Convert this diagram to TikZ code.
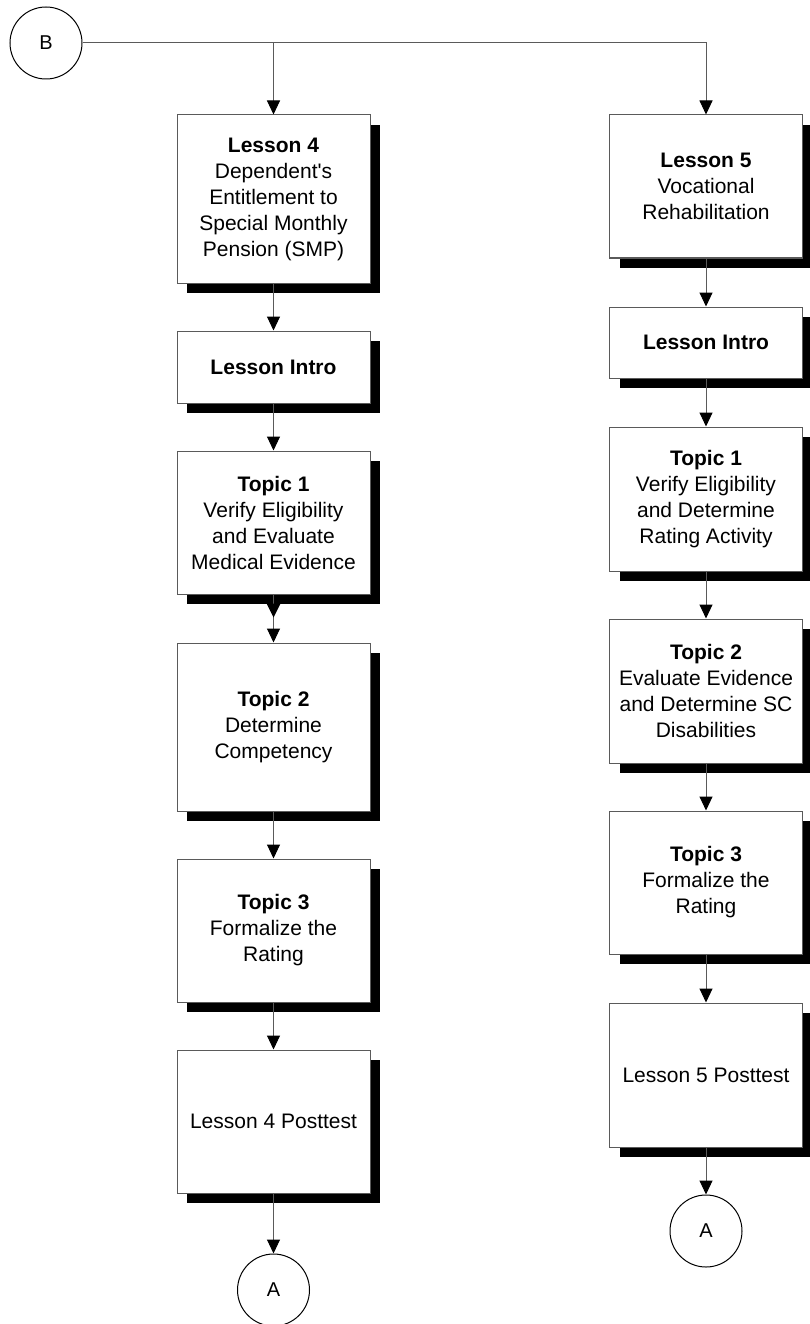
\documentclass[tikz,border=0pt]{standalone}
\usepackage{fontspec}
\setmainfont{Liberation Sans}
\usetikzlibrary{arrows.meta,shadows}
\definecolor{linecol}{RGB}{90,90,90}
\begin{document}
\begin{tikzpicture}[x=1pt,y=-1pt,
  stepbox/.style={draw=linecol,line width=1pt,fill=white,inner sep=0pt,
    minimum width=193pt,align=center,font=\fontsize{21}{26}\selectfont,
    drop shadow={shadow xshift=10pt,shadow yshift=-10pt,fill=black,opacity=1}},
  conn/.style={draw=black,line width=1pt,fill=white,circle,minimum size=72pt,inner sep=0pt,
    font=\fontsize{20}{24}\selectfont},
  arr/.style={draw=linecol,line width=1pt,-{Triangle[length=14pt,width=13pt,color=black]}}]
\useasboundingbox (0,0) rectangle (809,1324);
% left column
\node[stepbox,minimum height=168pt] (L4) at (273.5,199) {\textbf{Lesson 4}\\Dependent\textquotesingle s\\Entitlement to\\Special Monthly\\Pension (SMP)};
\node[stepbox,minimum height=72pt] (Li) at (273.5,367) {\textbf{Lesson Intro}};
\node[stepbox,minimum height=143pt] (LT1) at (273.5,522.5) {\textbf{Topic 1}\\Verify Eligibility\\and Evaluate\\Medical Evidence};
\node[stepbox,minimum height=168pt] (LT2) at (273.5,727) {\textbf{Topic 2}\\Determine\\Competency};
\node[stepbox,minimum height=143pt] (LT3) at (273.5,930.5) {\textbf{Topic 3}\\Formalize the\\Rating};
\node[stepbox,minimum height=143pt] (LP) at (273.5,1121.5) {Lesson 4 Posttest};
\node[conn] (LA) at (273.5,1290) {A};
% right column
\node[stepbox,minimum height=143pt] (R5) at (706,186.5) {\textbf{Lesson 5}\\Vocational\\Rehabilitation};
\node[stepbox,minimum height=71pt] (Ri) at (706,342.5) {\textbf{Lesson Intro}};
\node[stepbox,minimum height=144pt] (RT1) at (706,499) {\textbf{Topic 1}\\Verify Eligibility\\and Determine\\Rating Activity};
\node[stepbox,minimum height=144pt] (RT2) at (706,691) {\textbf{Topic 2}\\Evaluate Evidence\\and Determine SC\\Disabilities};
\node[stepbox,minimum height=143pt] (RT3) at (706,882.5) {\textbf{Topic 3}\\Formalize the\\Rating};
\node[stepbox,minimum height=144pt] (RP) at (706,1075) {Lesson 5 Posttest};
\node[conn] (RA) at (706,1231) {A};
% start connector
\node[conn] (B) at (46,43) {B};
\coordinate (bj) at (L4.north |- B.east);
\draw[arr] (B.east) -- (B.east -| R5.north) -- (R5.north);
\draw[arr] (bj) -- (L4.north);
% left arrows
\draw[arr] (L4.south) -- (Li.north);
\draw[arr] (Li.south) -- (LT1.north);
\draw[arr] (LT1.south) -- (LT2.north);
\fill[black] ([shift={(-7pt,-9pt)}]LT1.south) -- ([shift={(7pt,-9pt)}]LT1.south) -- ([shift={(0pt,-23pt)}]LT1.south) -- cycle;
\draw[arr] (LT2.south) -- (LT3.north);
\draw[arr] (LT3.south) -- (LP.north);
\draw[arr] (LP.south) -- (LA.north);
% right arrows
\draw[arr] (R5.south) -- (Ri.north);
\draw[arr] (Ri.south) -- (RT1.north);
\draw[arr] (RT1.south) -- (RT2.north);
\draw[arr] (RT2.south) -- (RT3.north);
\draw[arr] (RT3.south) -- (RP.north);
\draw[arr] (RP.south) -- (RA.north);
\end{tikzpicture}
\end{document}
